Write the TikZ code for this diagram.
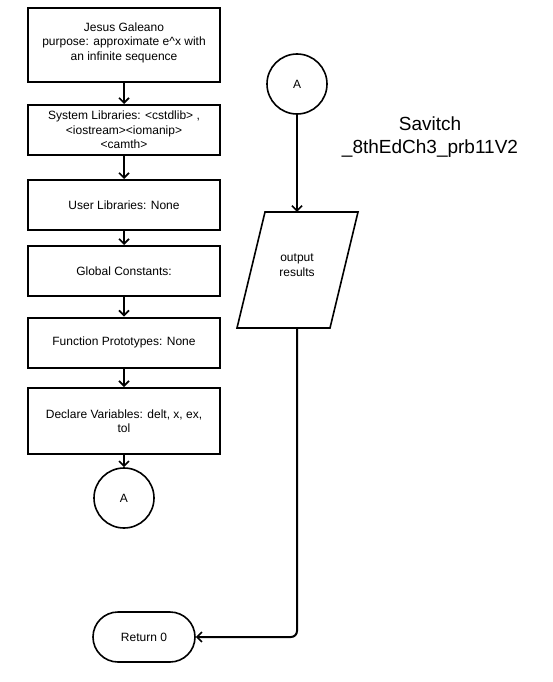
\documentclass[tikz,border=0pt]{standalone}
\usepackage{fontspec}
\setmainfont{Liberation Sans}
\usetikzlibrary{arrows.meta,shapes.misc}
\begin{document}
\begin{tikzpicture}[x=1pt,y=-1pt,
  stepbox/.style={draw,line width=2pt,minimum width=192pt,align=center,
    font=\fontsize{12}{14.5}\selectfont,inner sep=0pt},
  connector/.style={draw,line width=1.6pt,minimum size=60pt,circle,
    font=\fontsize{12}{14.5}\selectfont,inner sep=0pt},
  flow/.style={line width=2pt,-{Straight Barb[length=5pt,width=10pt,line width=1.6pt]}},
  term/.style={draw,line width=1.6pt,rounded rectangle,minimum width=102pt,
    minimum height=50pt,font=\fontsize{12}{14.5}\selectfont,inner sep=0pt}]
\useasboundingbox (0,0) rectangle (553,682);

% left column: program header and declarations
\node[stepbox,minimum height=74pt] (hdr) at (124,45)
  {Jesus Galeano\\purpose: approximate e\^{}x with\\an infinite sequence\\[-7.5pt]};
\node[stepbox,minimum height=50pt] (sys) at (124,130)
  {System Libraries: <cstdlib> ,\\<iostream><iomanip>\\<camth>};
\node[stepbox,minimum height=50pt] (usr) at (124,205) {User Libraries: None};
\node[stepbox,minimum height=50pt] (glob) at (124,271) {Global Constants:};
\node[stepbox,minimum height=50pt] (proto) at (124,342.5) {Function Prototypes: None};
\node[stepbox,minimum height=66pt] (decl) at (124,421) {Declare Variables: delt, x, ex,\\tol};
\node[connector] (a1) at (124,498) {A};

% right column: output and exit
\node[connector] (a2) at (297,84) {A};
\draw[line width=1.6pt] (265,212) -- (358,212) -- (330,328) -- (237,328) -- cycle;
\node[minimum width=60pt,minimum height=116pt,inner sep=0pt] (out) at (297,270) {};
\node[align=center,inner sep=0pt,font=\fontsize{12}{14.5}\selectfont] (outtxt) at (297,265)
  {output\\results};
\node[term] (ret) at (144,637) {Return 0};

\node[align=center,font=\fontsize{19}{23}\selectfont] (title) at (430,137)
  {Savitch\\\_8thEdCh3\_prb11V2};

% connectors
\draw[flow] (hdr) -- (sys);
\draw[flow] (sys) -- (usr);
\draw[flow] (usr) -- (glob);
\draw[flow] (glob) -- (proto);
\draw[flow] (proto) -- (decl);
\draw[flow] (decl) -- (a1);
\draw[flow] (a2) -- (out);
\draw[flow,rounded corners=6pt] (out.south) |- (ret.east);
\end{tikzpicture}
\end{document}
